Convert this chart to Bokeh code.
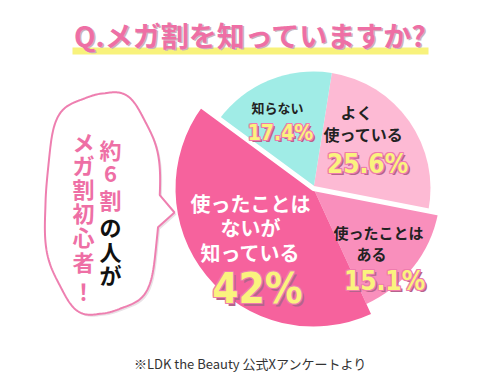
import math
from bokeh.plotting import figure
from bokeh.models import Range1d
from bokeh.core.properties import value
from bokeh.embed import file_html
from bokeh.resources import INLINE

# ---- data ----
categories = ["よく使っている", "使ったことはある", "使ったことはないが知っている", "知らない"]
values = [25.6, 15.1, 42.0, 17.4]
pct_labels = ["25.6%", "15.1%", "42%", "17.4%"]
label_lines = [["よく", "使っている"], ["使ったことは", "ある"], ["使ったことは", "ないが", "知っている"], ["知らない"]]
title_text = "Q.メガ割を知っていますか?"
note_text = "※LDK the Beauty 公式Xアンケートより"
bubble_pink = ["約", "6", "割"]
bubble_black = ["の", "人", "が"]
bubble_left = ["メ", "ガ", "割", "初", "心", "者", "！"]

# ---- styles ----
colors = ["#FDBAD4", "#F98FBC", "#F6629D", "#A0ECE6"]
radii = [117, 127, 138, 117]
JP = value("Noto Sans CJK JP")
NUM = value("DejaVu Sans Condensed, Liberation Sans Narrow, Roboto Condensed, sans-serif")
H = 389

def Y(y):
    return H - y

p = figure(width=484, height=373, output_backend="svg", toolbar_location=None,
           x_range=Range1d(0, 484), y_range=Range1d(Y(373), Y(0)), min_border=0)
p.axis.visible = False
p.grid.visible = False
p.outline_line_color = None
p.background_fill_color = "white"

# ---- title ----
p.quad(left=72, right=428, bottom=Y(54), top=Y(47), fill_color="#F8F27C", line_color=None)
p.text(x=[251.5], y=[Y(35.5)], text=[title_text], text_font=JP, text_font_style="bold",
       text_font_size="28px", text_color="#C8B4BE", text_align="center", text_baseline="middle")
p.text(x=[250], y=[Y(34)], text=[title_text], text_font=JP, text_font_style="bold",
       text_font_size="28px", text_color="#EE6FA5", text_align="center", text_baseline="middle")

# ---- pie ----
cx, cy = 313, Y(188)
start_deg = 81.0
total = sum(values)
bounds = [start_deg]
acc = 0.0
for v in values:
    acc += v
    bounds.append(start_deg - acc / total * 360.0)
for i, v in enumerate(values):
    a_end = math.radians(bounds[i])
    a_start = math.radians(bounds[i + 1])
    p.wedge(x=[cx], y=[cy], radius=radii[i], start_angle=a_start, end_angle=a_end,
            fill_color=colors[i], line_color=None)

# white gap through the centre (boundaries 17.4/42 and 25.6/15.1)
b1 = math.radians(bounds[3])
b2 = math.radians(bounds[1])
gx = [cx + 150 * math.cos(b1), cx, cx + 150 * math.cos(b2)]
gy = [cy + 150 * math.sin(b1), cy, cy + 150 * math.sin(b2)]
p.line(gx, gy, line_color="white", line_width=5)

# category labels
def jp(x, y, t, size, color):
    p.text(x=[x], y=[Y(y)], text=[t], text_font=JP, text_font_style="bold",
           text_font_size=size, text_color=color, text_align="center", text_baseline="middle")

lab_pos = [[(356, 111), (363, 133)], [(378, 232), (371, 253)],
           [(250, 203), (250, 227), (250, 252)], [(277, 107)]]
lab_size = ["16px", "15px", "20px", "13px"]
lab_color = ["#222222", "#222222", "white", "#222222"]
for i in range(4):
    for (x, y), t in zip(lab_pos[i], label_lines[i]):
        jp(x, y, t, lab_size[i], lab_color[i])

pct_pos = [(367, 163), (384, 280), (257, 288), (280, 132)]
pct_size = [26, 26, 42, 21]

for (x, y), t, s in zip(pct_pos, pct_labels, pct_size):
    fs = f"{s}px"
    p.text(x=[x + 2.5], y=[Y(y + 2.5)], text=[t], text_font=NUM, text_font_style="bold",
           text_font_size=fs, text_color="#B5648C", text_align="center", text_baseline="middle")
    for dx, dy in [(-1, 0), (1, 0), (0, -1), (0, 1), (1, 1), (-1, -1), (1, -1), (-1, 1)]:
        p.text(x=[x + dx], y=[Y(y + dy)], text=[t], text_font=NUM, text_font_style="bold",
               text_font_size=fs, text_color="#EE7CAE", text_align="center", text_baseline="middle")
    p.text(x=[x], y=[Y(y)], text=[t], text_font=NUM, text_font_style="bold",
           text_font_size=fs, text_color="#FAF37E", text_align="center", text_baseline="middle")

# ---- speech bubble ----
bcx, bcy, ba, bb, n = 102, Y(203), 57, 110, 2.6
xs, ys = [], []
tip_done = False
for k in range(360):
    t = math.radians(k)
    c, s = math.cos(t), math.sin(t)
    bump = 1 + 0.025 * math.sin(6 * t)
    x = bcx + ba * bump * math.copysign(abs(c) ** (2 / n), c)
    y = bcy + bb * bump * math.copysign(abs(s) ** (2 / n), s)
    if x > bcx and Y(226) < y < Y(198):
        if not tip_done:
            xs.append(174); ys.append(Y(212))
            tip_done = True
        continue
    xs.append(x); ys.append(y)
p.patch([x + 2 for x in xs], [y - 2 for y in ys], fill_color="#E9E2E6", line_color=None)
p.patch(xs, ys, fill_color="white", line_color="#EE7FB0", line_width=2)

for ch, y in zip(bubble_pink, [148, 173, 198]):
    jp(110, y, ch, "22px", "#EE6FA5")
for ch, y in zip(bubble_black, [225, 250, 273]):
    jp(110, y, ch, "22px", "#111111")
for ch, y in zip(bubble_left, [140, 163, 187, 211, 235, 260, 289]):
    jp(83, y, ch, "22px", "#EE6FA5")

# ---- note ----
p.text(x=[250], y=[Y(363)], text=[note_text], text_font=value("Noto Sans CJK JP"),
       text_font_size="13px", text_color="#333333", text_align="center", text_baseline="middle")

open("out.html", "w").write(file_html(p, INLINE))
